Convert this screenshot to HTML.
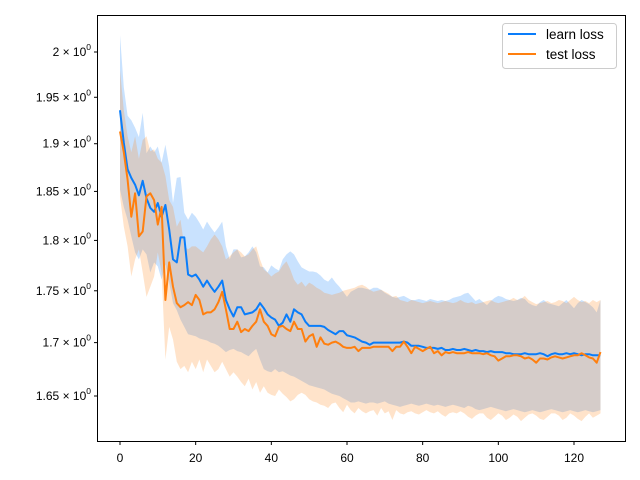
<!DOCTYPE html>
<html><head><meta charset="utf-8"><style>
body{margin:0;background:#fff;}
svg{display:block;font-family:"Liberation Sans","DejaVu Sans",sans-serif;}
</style></head><body>
<svg id="chart" width="640" height="480" viewBox="0 0 640 480" xmlns="http://www.w3.org/2000/svg">
<rect width="640" height="480" fill="#fff"/>
<g id="bands"></g><g id="lines"></g>
<rect x="97.5" y="15.5" width="528" height="426" fill="none" stroke="#000" stroke-width="1"/>
<g id="yaxis"></g><g id="xaxis"></g>
<g>
<rect x="502.5" y="23.5" width="114" height="45" rx="3" fill="#fff" fill-opacity="0.8" stroke="#ccc"/>
<line x1="508" y1="34" x2="536" y2="34" stroke="#0a7dfa" stroke-width="2"/>
<text x="546" y="39" font-size="13.5">learn loss</text>
<line x1="508" y1="54" x2="536" y2="54" stroke="#ff7f0e" stroke-width="2"/>
<text x="546" y="59" font-size="13.5">test loss</text>
</g>
</svg>
<script>
const learnMean=[1.936,1.901,1.873,1.864,1.857,1.846,1.861,1.843,1.833,1.829,1.838,1.824,1.836,1.811,1.781,1.778,1.803,1.803,1.766,1.764,1.766,1.761,1.754,1.760,1.754,1.749,1.754,1.760,1.741,1.732,1.725,1.734,1.734,1.727,1.728,1.729,1.732,1.738,1.733,1.727,1.724,1.722,1.716,1.719,1.727,1.720,1.732,1.729,1.727,1.720,1.716,1.716,1.716,1.716,1.715,1.712,1.710,1.708,1.711,1.711,1.707,1.706,1.705,1.703,1.701,1.700,1.698,1.700,1.700,1.700,1.700,1.700,1.700,1.700,1.700,1.701,1.700,1.697,1.697,1.697,1.696,1.695,1.695,1.695,1.694,1.695,1.693,1.693,1.694,1.693,1.693,1.694,1.693,1.692,1.693,1.692,1.692,1.691,1.692,1.691,1.691,1.691,1.690,1.690,1.689,1.689,1.689,1.690,1.689,1.689,1.689,1.690,1.689,1.687,1.689,1.690,1.689,1.689,1.690,1.689,1.690,1.689,1.688,1.689,1.689,1.688,1.688,1.688];
const learnUpper=[2.019,1.961,1.930,1.925,1.917,1.907,1.933,1.890,1.897,1.891,1.897,1.880,1.899,1.876,1.838,1.864,1.865,1.828,1.821,1.828,1.824,1.818,1.811,1.819,1.813,1.808,1.813,1.819,1.794,1.781,1.791,1.791,1.783,1.784,1.788,1.794,1.788,1.774,1.773,1.768,1.775,1.772,1.770,1.781,1.786,1.789,1.786,1.779,1.773,1.771,1.769,1.769,1.768,1.765,1.761,1.759,1.763,1.758,1.754,1.749,1.744,1.749,1.751,1.753,1.753,1.752,1.751,1.753,1.753,1.751,1.748,1.746,1.744,1.743,1.744,1.745,1.743,1.741,1.741,1.742,1.741,1.740,1.742,1.741,1.740,1.741,1.740,1.741,1.743,1.744,1.745,1.747,1.748,1.744,1.740,1.742,1.739,1.736,1.740,1.743,1.745,1.744,1.742,1.741,1.740,1.741,1.743,1.742,1.738,1.736,1.735,1.739,1.741,1.738,1.737,1.736,1.735,1.738,1.741,1.737,1.733,1.738,1.741,1.739,1.737,1.734,1.729,1.741];
const learnLower=[1.852,1.834,1.821,1.804,1.788,1.781,1.791,1.786,1.768,1.778,1.774,1.761,1.776,1.758,1.738,1.731,1.722,1.715,1.708,1.707,1.706,1.704,1.703,1.702,1.700,1.699,1.697,1.694,1.691,1.693,1.694,1.692,1.691,1.689,1.687,1.691,1.694,1.684,1.675,1.673,1.672,1.675,1.672,1.673,1.671,1.669,1.668,1.666,1.664,1.662,1.660,1.659,1.658,1.657,1.656,1.654,1.652,1.651,1.650,1.648,1.646,1.644,1.644,1.645,1.644,1.643,1.644,1.644,1.643,1.644,1.645,1.643,1.642,1.641,1.640,1.641,1.642,1.643,1.642,1.641,1.642,1.643,1.642,1.641,1.642,1.641,1.640,1.641,1.642,1.641,1.640,1.639,1.641,1.640,1.638,1.637,1.638,1.639,1.640,1.639,1.638,1.637,1.636,1.637,1.638,1.637,1.636,1.635,1.636,1.637,1.636,1.635,1.636,1.637,1.638,1.637,1.636,1.635,1.636,1.637,1.636,1.635,1.636,1.637,1.636,1.635,1.636,1.637];
const testMean=[1.913,1.891,1.862,1.824,1.848,1.804,1.809,1.845,1.848,1.841,1.816,1.834,1.741,1.778,1.754,1.738,1.734,1.736,1.739,1.736,1.746,1.741,1.727,1.729,1.729,1.732,1.739,1.749,1.732,1.713,1.713,1.720,1.710,1.713,1.711,1.716,1.720,1.732,1.720,1.716,1.708,1.706,1.715,1.716,1.713,1.711,1.720,1.713,1.713,1.701,1.706,1.708,1.696,1.705,1.699,1.698,1.700,1.701,1.699,1.696,1.695,1.695,1.696,1.692,1.695,1.695,1.695,1.696,1.696,1.696,1.696,1.696,1.692,1.696,1.696,1.701,1.696,1.690,1.696,1.694,1.692,1.694,1.696,1.690,1.692,1.688,1.691,1.690,1.691,1.690,1.690,1.690,1.691,1.690,1.690,1.690,1.689,1.690,1.688,1.687,1.683,1.685,1.687,1.687,1.688,1.688,1.687,1.685,1.686,1.684,1.681,1.685,1.685,1.684,1.686,1.687,1.686,1.685,1.686,1.687,1.688,1.688,1.690,1.688,1.686,1.685,1.681,1.691];
const testUpper=[1.980,1.936,1.908,1.891,1.908,1.884,1.904,1.908,1.892,1.894,1.884,1.880,1.866,1.841,1.834,1.814,1.821,1.794,1.791,1.794,1.794,1.791,1.788,1.794,1.801,1.806,1.801,1.794,1.781,1.784,1.788,1.791,1.788,1.784,1.786,1.791,1.794,1.781,1.771,1.768,1.764,1.767,1.769,1.775,1.779,1.771,1.761,1.756,1.759,1.754,1.758,1.756,1.753,1.751,1.748,1.747,1.746,1.747,1.748,1.750,1.751,1.752,1.753,1.755,1.756,1.754,1.751,1.749,1.750,1.751,1.749,1.747,1.744,1.745,1.741,1.740,1.739,1.741,1.740,1.739,1.738,1.739,1.740,1.739,1.738,1.739,1.740,1.739,1.738,1.739,1.741,1.739,1.738,1.739,1.737,1.738,1.739,1.740,1.741,1.739,1.738,1.739,1.740,1.741,1.743,1.741,1.742,1.745,1.741,1.739,1.737,1.738,1.739,1.740,1.738,1.739,1.741,1.740,1.738,1.741,1.744,1.741,1.739,1.740,1.738,1.741,1.739,1.741];
const testLower=[1.845,1.814,1.794,1.764,1.781,1.791,1.768,1.744,1.754,1.764,1.788,1.768,1.684,1.715,1.703,1.682,1.675,1.678,1.672,1.682,1.675,1.684,1.672,1.684,1.678,1.672,1.675,1.682,1.675,1.668,1.672,1.668,1.663,1.659,1.666,1.656,1.663,1.653,1.659,1.653,1.651,1.650,1.656,1.652,1.649,1.645,1.647,1.651,1.653,1.651,1.647,1.645,1.644,1.642,1.641,1.639,1.643,1.644,1.639,1.635,1.642,1.637,1.634,1.639,1.636,1.634,1.636,1.637,1.632,1.639,1.634,1.636,1.628,1.637,1.634,1.633,1.635,1.636,1.634,1.633,1.635,1.637,1.635,1.634,1.636,1.633,1.631,1.634,1.635,1.634,1.636,1.634,1.631,1.629,1.632,1.634,1.634,1.630,1.628,1.631,1.634,1.632,1.628,1.630,1.633,1.631,1.627,1.630,1.633,1.634,1.632,1.629,1.628,1.631,1.634,1.634,1.632,1.628,1.630,1.634,1.632,1.629,1.627,1.631,1.634,1.630,1.632,1.634];
const xTicks=[0,20,40,60,80,100,120];
const yTicks=[1.65,1.7,1.75,1.8,1.85,1.9,1.95,2];
const yTickLabels=["1.65","1.7","1.75","1.8","1.85","1.9","1.95","2"];

const NS="http://www.w3.org/2000/svg";
function X(i){return 120+i*(574-120)/120;}
function Y(v){return 52+(Math.log10(2)-Math.log10(v))/(Math.log10(2)-Math.log10(1.65))*344;}
function mk(tag,attrs,parent){const e=document.createElementNS(NS,tag);for(const k in attrs)e.setAttribute(k,attrs[k]);parent.appendChild(e);return e;}
function bandPath(up,lo){let d="";up.forEach((v,i)=>{d+=(i?"L":"M")+X(i).toFixed(1)+","+Y(v).toFixed(1);});for(let i=lo.length-1;i>=0;i--)d+="L"+X(i).toFixed(1)+","+Y(lo[i]).toFixed(1);return d+"Z";}
function linePath(a){return a.map((v,i)=>(i?"L":"M")+X(i).toFixed(1)+","+Y(v).toFixed(1)).join("");}
const bands=document.getElementById("bands"),lines=document.getElementById("lines");
const b1=mk("path",{d:bandPath(learnUpper,learnLower),fill:"#0a7dfa","fill-opacity":"0.22"},bands);


const b2=mk("path",{d:bandPath(testUpper,testLower),fill:"#ff7f0e","fill-opacity":"0.22"},bands);


const l1=mk("path",{d:linePath(learnMean),fill:"none",stroke:"#0a7dfa","stroke-width":"2","stroke-linejoin":"round"},lines);


const l2=mk("path",{d:linePath(testMean),fill:"none",stroke:"#ff7f0e","stroke-width":"2","stroke-linejoin":"round"},lines);


const xa=document.getElementById("xaxis");
xTicks.forEach(t=>{const x=X(t);
 const tk=mk("line",{x1:x,y1:441.5,x2:x,y2:445,stroke:"#000"},xa);
 
 
 const tx=mk("text",{x:x,y:462,"font-size":"12","text-anchor":"middle"},xa);tx.textContent=t;
 
 
});
const ya=document.getElementById("yaxis");
yTicks.forEach((t,k)=>{const y=Y(t);
 const tk=mk("line",{x1:94,y1:y,x2:97.5,y2:y,stroke:"#000"},ya);
 
 
 const tx=mk("text",{x:91,y:y+4,"font-size":"12","text-anchor":"end"},ya);
 
 
 tx.appendChild(document.createTextNode(yTickLabels[k]+" \u00d7 10"));
 const sup=mk("tspan",{dy:"-6","font-size":"8.5"},tx);sup.textContent="0";
});
</script>
</body></html>
